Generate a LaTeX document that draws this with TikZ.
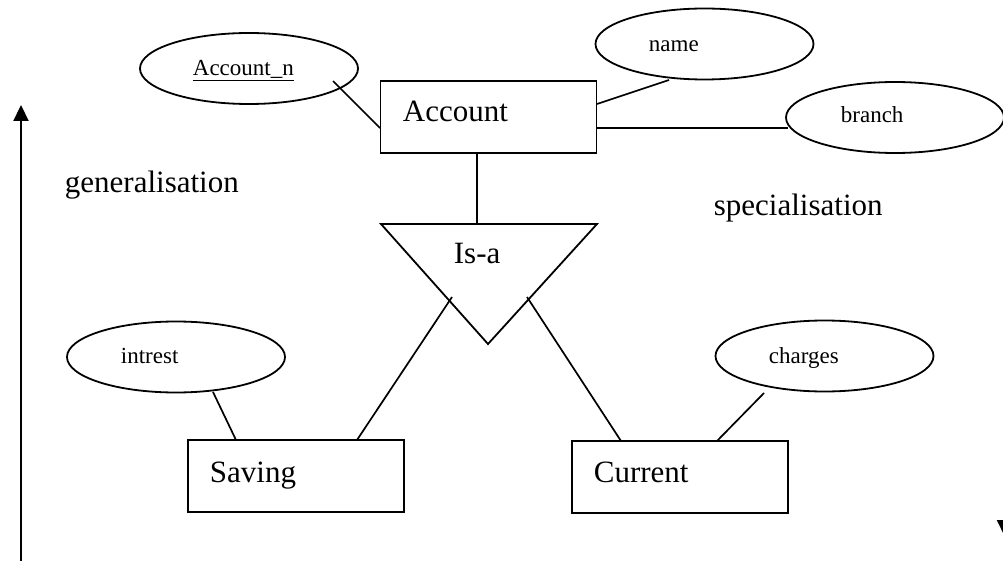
\documentclass[tikz,border=0pt]{standalone}
\usepackage{fontspec}
\setmainfont{Liberation Serif}
\usetikzlibrary{shapes.geometric,arrows.meta}
\begin{document}
\begin{tikzpicture}[x=1pt,y=-1pt,
  line width=1.8pt,
  ent/.style={draw,rectangle,minimum width=216pt,minimum height=72pt,inner sep=0pt},
  attr/.style={draw,ellipse,minimum width=218pt,minimum height=71pt,inner sep=0pt},
  big/.style={font=\fontsize{31}{36}\selectfont,inner sep=0pt,anchor=base west},
  small/.style={font=\fontsize{23}{27}\selectfont,inner sep=0pt,anchor=base west},
  conn/.style={line width=1.7pt},
  arr/.style={line width=2.2pt,-{Triangle[length=16pt,width=15pt]}}]
\useasboundingbox (0,0) rectangle (1003,561);
% entities
\node[ent] (account) at (488.5,117) {};
\node[ent] (saving) at (296,476) {};
\node[ent] (current) at (680,477) {};
\node[big] (accountT) at (402,122) {Account};
\node[big] (savingT) at (209,482) {Saving};
\node[big] (currentT) at (593,482) {Current};
% attributes
\node[attr] (accn) at (249,68.5) {};
\node[attr] (name) at (704.5,44) {};
\node[attr] (branch) at (895,117.5) {};
\node[attr] (intrest) at (176,357) {};
\node[attr] (charges) at (824.5,356) {};
\node[small] (accnT) at (192,76) {\underline{Account\_n}};
\node[small] (nameT) at (648,52) {name};
\node[small] (branchT) at (840,123) {branch};
\node[small] (intrestT) at (120,363) {intrest};
\node[small] (chargesT) at (768,363) {charges};
% is-a triangle
\coordinate (tl) at (381,224);
\coordinate (tr) at (597,224);
\coordinate (tb) at (488,344);
\draw (tl) -- (tr) -- (tb) -- cycle;
\node[big] (isa) at (453,263) {Is-a};
\coordinate (isatop) at (477,224);
\coordinate (isaL) at (452,297);
\coordinate (isaR) at (527,297);
% connectors
\coordinate (accnEnd) at (333,81);
\coordinate (accL) at (380,128);
\draw[conn] (accnEnd) -- (accL);
\coordinate (accR1) at (597,104);
\coordinate (nameB) at (669,80);
\draw[conn] (accR1) -- (nameB);
\coordinate (accR2) at (597,128);
\coordinate (branchL) at (788,128);
\draw[conn] (accR2) -- (branchL);
\coordinate (accB) at (477,153);
\draw[conn] (accB) -- (isatop);
\coordinate (savTop) at (357,440);
\draw[conn] (isaL) -- (savTop);
\coordinate (curTop) at (621,441);
\draw[conn] (isaR) -- (curTop);
\coordinate (intB) at (213,392);
\coordinate (savTop2) at (236,440);
\draw[conn] (intB) -- (savTop2);
\coordinate (chB) at (764,393);
\coordinate (curTop2) at (717,441);
\draw[conn] (chB) -- (curTop2);
% labels
\node[big] (gen) at (64,193) {generalisation};
\node[big] (spec) at (713,216) {specialisation};
% arrows
\coordinate (upS) at (21,561);
\coordinate (upE) at (21,105);
\draw[arr] (upS) -- (upE);
\begin{scope}
\clip (0,0) rectangle (1003,561);
\coordinate (dnS) at (1004.5,480);
\coordinate (dnE) at (1004.5,536);
\draw[arr] (dnS) -- (dnE);
\end{scope}
\end{tikzpicture}
\end{document}
